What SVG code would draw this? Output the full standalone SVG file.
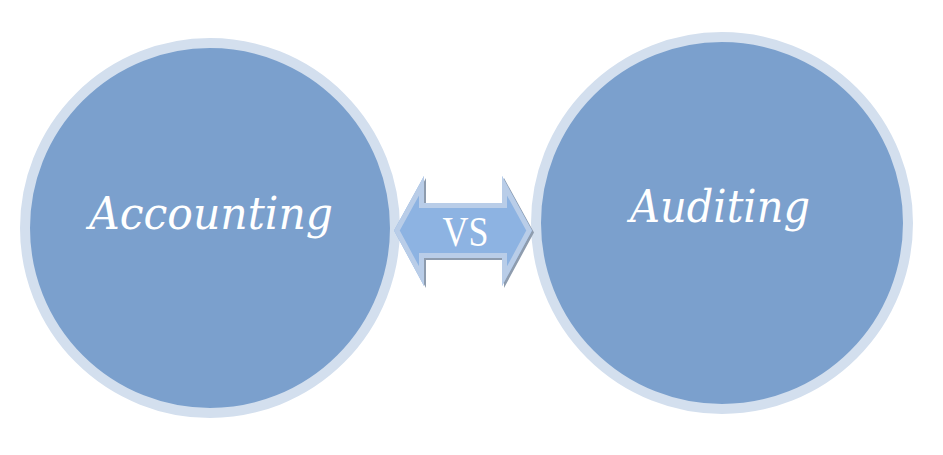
<svg xmlns="http://www.w3.org/2000/svg" width="943" height="455" viewBox="0 0 943 455">
  <style>
    .ring { fill: #7BA0CD; stroke: #D3DFEE; stroke-width: 10; }
    .label { fill: #FFFFFF; font-family: "DejaVu Serif", "Liberation Serif", serif; font-style: italic; font-size: 45px; text-anchor: middle; }
    .vs { fill: #FFFFFF; font-family: "Liberation Serif", "DejaVu Serif", serif; font-size: 43px; text-anchor: middle; }
  </style>
  <defs>
    <polygon id="arrowShape" points="394,230.5 424,176 424,203 502,203 502,176 532,230.5 502,286 502,258 424,258 424,286"/>
    <clipPath id="arrowClip"><use href="#arrowShape"/></clipPath>
  </defs>
  <rect width="943" height="455" fill="#FFFFFF"/>
  <g id="accounting">
    <circle class="ring" cx="210" cy="228" r="185"/>
    <text class="label" x="211" y="229" textLength="244" lengthAdjust="spacingAndGlyphs">Accounting</text>
  </g>
  <g id="auditing">
    <circle class="ring" cx="722" cy="223" r="186"/>
    <text class="label" x="720" y="222" textLength="180" lengthAdjust="spacingAndGlyphs">Auditing</text>
  </g>
  <g id="connectors">
    <use href="#arrowShape" fill="#8E9CAE" transform="translate(2,2)"/>
    <use href="#arrowShape" fill="#8DB3E2"/>
    <use href="#arrowShape" fill="none" stroke="#B9CDE8" stroke-width="10" stroke-linejoin="miter" clip-path="url(#arrowClip)"/>
    <text class="vs" x="465.5" y="246" textLength="46" lengthAdjust="spacingAndGlyphs">VS</text>
  </g>
</svg>
